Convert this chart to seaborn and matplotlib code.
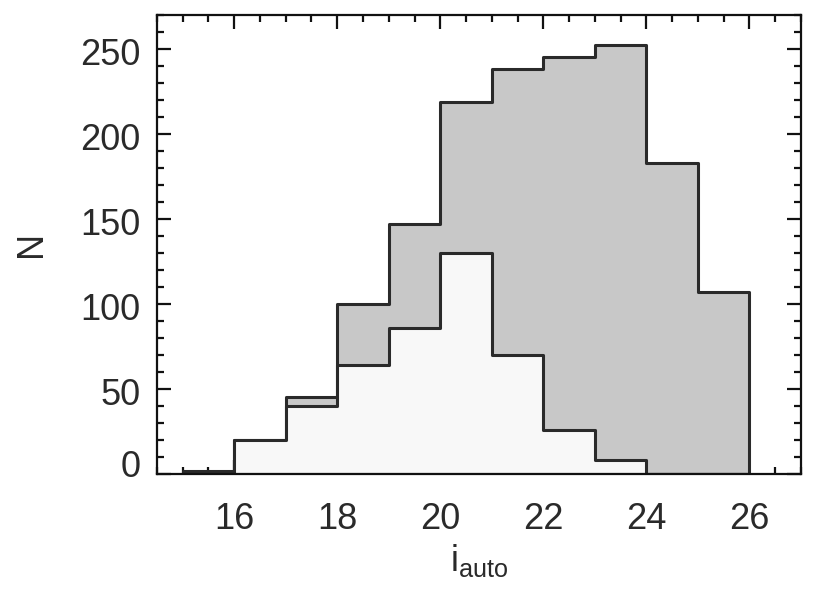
import numpy as np
import pandas as pd
import seaborn as sns
import matplotlib.pyplot as plt
import matplotlib.transforms as mtransforms
from matplotlib.ticker import MultipleLocator

# bin centres (magnitude bins of width 1, from 15 to 26)
bin_centres = [15.5, 16.5, 17.5, 18.5, 19.5, 20.5, 21.5, 22.5, 23.5, 24.5, 25.5]
# counts: full sample (grey) and subsample (light)
n_all = [2, 20, 45, 100, 147, 219, 238, 245, 252, 183, 107]
n_sub = [0, 20, 40, 64, 86, 130, 70, 26, 8, 0, 0]

df = pd.DataFrame({'iauto': bin_centres, 'all': n_all, 'sub': n_sub})

sns.set_style("ticks")
plt.rcParams['font.family'] = ['Liberation Sans', 'DejaVu Sans']
plt.rcParams['mathtext.fontset'] = 'custom'
plt.rcParams['mathtext.rm'] = 'Liberation Sans'

fig = plt.figure(figsize=(8.3, 5.94), dpi=100)
ax = fig.add_axes([0.189, 0.202, 0.776, 0.773])

sns.histplot(data=df, x='iauto', weights='all', binwidth=1, binrange=(15, 26),
             element='step', fill=True, color='#c8c8c8', alpha=1,
             edgecolor='#2a2a2a', linewidth=2.2, ax=ax)
sns.histplot(data=df, x='iauto', weights='sub', binwidth=1, binrange=(15, 26),
             element='step', fill=True, color='#f8f8f8', alpha=1,
             edgecolor='#2a2a2a', linewidth=2.2, ax=ax)

ax.set_xlim(14.5, 27)
ax.set_ylim(0, 270)
ax.xaxis.set_major_locator(MultipleLocator(2))
ax.xaxis.set_minor_locator(MultipleLocator(0.5))
ax.yaxis.set_major_locator(MultipleLocator(50))
ax.yaxis.set_minor_locator(MultipleLocator(10))

for s in ax.spines.values():
    s.set_linewidth(1.6)
    s.set_color('#111111')
ax.tick_params(which='both', direction='in', top=True, right=True, width=1.6, color='#111111')
ax.tick_params(which='major', length=10)
ax.tick_params(which='minor', length=5)
ax.tick_params(axis='x', which='major', pad=20, labelsize=26, labelcolor='#2a2a2a')
ax.tick_params(axis='y', which='major', pad=12, labelsize=26, labelcolor='#2a2a2a')

# y tick labels sit a little below their ticks, the "0" is lifted above the axis
for lbl in ax.get_yticklabels():
    dy = 11 if lbl.get_text() == '0' else -3
    off = mtransforms.ScaledTranslation(0, dy / 100, fig.dpi_scale_trans)
    lbl.set_transform(lbl.get_transform() + off)

ax.set_xlabel(r'$\mathregular{i_{auto}}$', fontsize=26, color='#2a2a2a', labelpad=4)
ax.set_ylabel('N', fontsize=26, color='#2a2a2a', labelpad=22)

fig.savefig('out.png', dpi=100)
